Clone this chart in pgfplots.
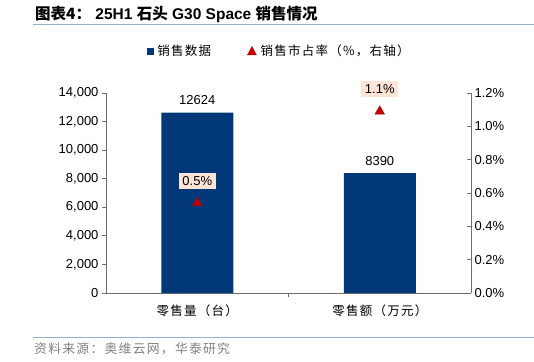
\documentclass[border=0pt]{standalone}
\usepackage{pgfplots}
\pgfplotsset{compat=1.18}
\usepackage{fontspec}
\setmainfont{Liberation Sans}
\newfontfamily\cjk{Noto Sans CJK SC}
\newfontfamily\cjks{Noto Sans CJK SC}[LetterSpace=10]
\definecolor{barcol}{RGB}{0,56,120}
\definecolor{redcol}{RGB}{192,0,0}
\definecolor{boxcol}{RGB}{252,228,214}
\definecolor{linecol}{RGB}{150,175,205}
\definecolor{srccol}{RGB}{128,128,128}
\definecolor{axcol}{RGB}{110,110,110}
\begin{document}
\begin{tikzpicture}[x=1pt,y=1pt]
\useasboundingbox (0,0) rectangle (534,361);
\node[anchor=west,inner sep=0] at (35,347) {\fontsize{15.5}{17}\selectfont\bfseries{\cjk 图表4：} 25H1 {\cjk 石头} G30 Space {\cjk 销售情况}};
\draw[linecol, line width=0.8pt] (33,337) -- (534,337);
\draw[linecol, line width=0.8pt] (33,24) -- (534,24);
\node[anchor=west,inner sep=0,text=srccol] at (34,12) {\fontsize{12.8}{14}\selectfont\cjks 资料来源：奥维云网，华泰研究};
\begin{axis}[
  at={(106pt,68pt)}, anchor=south west,
  width=365pt, height=200pt, scale only axis,
  xmin=-0.5, xmax=1.5, ymin=0, ymax=14000,
  axis x line*=bottom, axis y line*=left,
  axis line style={axcol, line width=0.8pt},
  xtick={0,1}, xticklabels={零售量（台）,零售额（万元）},
  xticklabel style={font=\fontsize{12.5}{14}\selectfont\cjks, yshift=-4pt},
  x tick style={draw=none},
  extra x ticks={0.5}, extra x tick labels={},
  extra x tick style={x tick style={draw=axcol, line width=0.8pt}, tick align=outside, major tick length=4pt},
  ytick={0,2000,...,14000},
  y tick style={axcol, line width=0.8pt}, tick align=outside, major tick length=4pt,
  scaled y ticks=false,
  yticklabel style={/pgf/number format/1000 sep={,}, font=\fontsize{13}{15}\selectfont},
  /pgf/number format/assume math mode=true,
  ybar, bar width=72pt,
  nodes near coords,
  nodes near coords style={/pgf/number format/1000 sep={}, font=\fontsize{13}{15}\selectfont, text=black, yshift=4pt},
]
\addplot[fill=barcol, draw=none] coordinates {(0,12624) (1,8390)};
\end{axis}
\begin{axis}[
  at={(106pt,68pt)}, anchor=south west,
  width=365pt, height=200pt, scale only axis,
  xmin=-0.5, xmax=1.5, ymin=0, ymax=1.2,
  axis x line=none, axis y line*=right,
  axis line style={axcol, line width=0.8pt},
  ytick={0,0.2,...,1.2},
  y tick style={axcol, line width=0.8pt}, tick align=inside, major tick length=4pt,
  yticklabel={\pgfmathprintnumber[fixed,fixed zerofill,precision=1]{\tick}\%},
  yticklabel style={font=\fontsize{13}{15}\selectfont},
  /pgf/number format/assume math mode=true,
  legend style={at={(0.475,1.21)}, anchor=center, draw=none, fill=none, legend columns=2,
    font=\fontsize{12.5}{14}\selectfont\cjks, /tikz/every even column/.append style={column sep=34pt},
    /tikz/every odd column/.append style={column sep=2pt}},
  legend image code/.code={},
]
\addlegendimage{legend image code/.code={\fill[barcol] (0pt,-3pt) rectangle (6pt,3pt);}}
\addlegendentry{销售数据}
\addplot[only marks, mark=triangle*, mark size=5.5pt, color=redcol,
  nodes near coords={\pgfmathprintnumber[fixed,precision=1]{\pgfplotspointmeta}\%},
  nodes near coords style={fill=boxcol, anchor=center, yshift=22pt, inner sep=3.5pt, text=black, font=\fontsize{13}{15}\selectfont},
  legend image code/.code={\fill[redcol] (0pt,-4pt) -- (9pt,-4pt) -- (4.5pt,4.5pt) -- cycle;}]
  coordinates {(0,0.54) (1,1.09)};
\addlegendentry{销售市占率（\%，右轴）}
\end{axis}
\end{tikzpicture}
\end{document}
